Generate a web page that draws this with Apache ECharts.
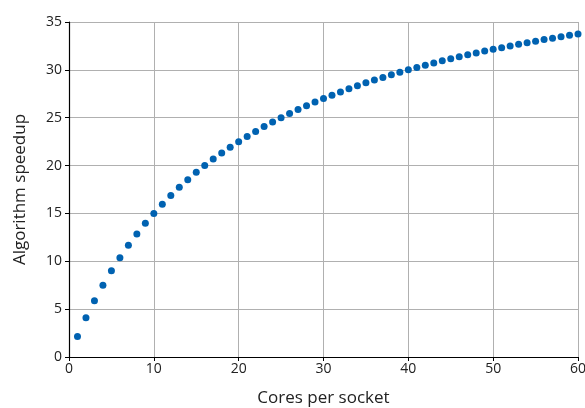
<!DOCTYPE html>
<html>
<head>
<meta charset="utf-8">
<script src="https://cdn.jsdelivr.net/npm/echarts@6/dist/echarts.min.js"></script>
<style>
  html, body { margin: 0; padding: 0; background: #fff; }
  #main { width: 585px; height: 408px; }
</style>
</head>
<body>
<div id="main"></div>
<script>
// cores per socket (x) and speedup (y)
var cores = [];
for (var i = 1; i <= 60; i++) cores.push(i);
var speedup = [
    2.14, 4.09, 5.87, 7.50, 9.00, 10.38, 11.67, 12.86, 13.97, 15.00,
    15.97, 16.88, 17.73, 18.53, 19.29, 20.00, 20.68, 21.32, 21.92, 22.50,
    23.05, 23.57, 24.07, 24.55, 25.00, 25.43, 25.85, 26.25, 26.63, 27.00,
    27.35, 27.69, 28.02, 28.33, 28.64, 28.93, 29.21, 29.48, 29.75, 30.00,
    30.25, 30.48, 30.71, 30.94, 31.15, 31.36, 31.57, 31.76, 31.96, 32.14,
    32.32, 32.50, 32.67, 32.84, 33.00, 33.16, 33.31, 33.46, 33.61, 33.75
];

var points = cores.map(function (c, i) { return [c, speedup[i]]; });

var textColor = '#222';
var font = 'Open Sans';

var myChart = echarts.init(document.getElementById('main'));
myChart.setOption({
    animation: false,
    grid: { left: 69, right: 7, top: 22, bottom: 51, outerBoundsMode: 'none', containLabel: false },
    xAxis: [{
        type: 'value',
        min: 0, max: 60, interval: 10,
        name: 'Cores per socket',
        nameLocation: 'middle',
        nameGap: 33,
        nameTextStyle: { fontSize: 17, color: textColor, fontFamily: font },
        axisLine: { onZero: false, lineStyle: { color: '#000', width: 1.2 } },
        axisTick: { show: true, length: 4, lineStyle: { color: '#000' } },
        axisLabel: { fontSize: 14, color: textColor, fontFamily: font, margin: 5, showMaxLabel: true },
        splitLine: { show: true, lineStyle: { color: '#b0b0b0', width: 1 } }
    }, {
        type: 'value',
        position: 'top',
        min: 0, max: 60, interval: 10,
        axisLine: { show: true, lineStyle: { color: '#000', width: 1.2 } },
        axisTick: { show: false },
        axisLabel: { show: false },
        splitLine: { show: false }
    }],
    yAxis: {
        type: 'value',
        min: 0, max: 35, interval: 5,
        name: 'Algorithm speedup',
        nameLocation: 'middle',
        nameGap: 40,
        nameTextStyle: { fontSize: 17, color: textColor, fontFamily: font },
        axisLine: { show: true, lineStyle: { color: '#000', width: 1.2 } },
        axisTick: { show: true, length: 4, lineStyle: { color: '#000' } },
        axisLabel: { fontSize: 14, color: textColor, fontFamily: font, margin: 7 },
        splitLine: { show: true, lineStyle: { color: '#b0b0b0', width: 1 } }
    },
    series: [{
        type: 'scatter',
        data: points,
        symbolSize: 7,
        itemStyle: { color: '#0062b1', opacity: 1 }
    }]
});
</script>
</body>
</html>
